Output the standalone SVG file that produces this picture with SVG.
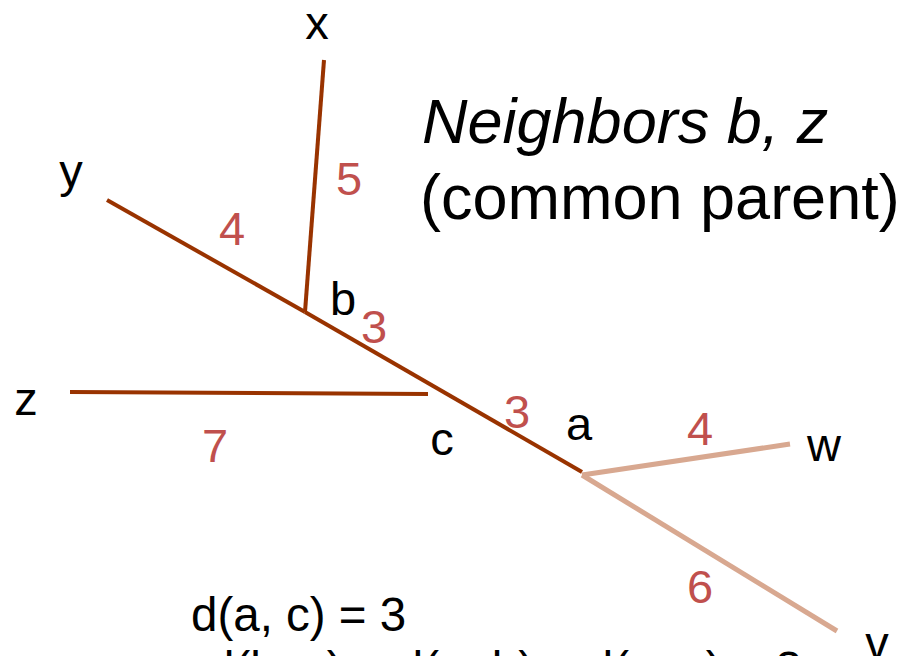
<svg xmlns="http://www.w3.org/2000/svg" width="909" height="656" viewBox="0 0 909 656">
<style>
text{font-family:"Liberation Sans",Arial,sans-serif;}
.lbl{font-size:47px;fill:#000;text-anchor:middle;}
.num{font-size:47px;fill:#C0504D;text-anchor:middle;}
.dark{stroke:#993300;stroke-width:4;stroke-linecap:butt;fill:none;}
.light{stroke:#D8A890;stroke-width:5;stroke-linecap:butt;fill:none;}
.title{font-size:63px;fill:#000;}
.eq{font-size:47.5px;fill:#000;}
</style>
<rect width="909" height="656" fill="#fff"/>
<g id="connectors">
<line class="dark" x1="324" y1="60" x2="305" y2="312"/>
<line class="dark" x1="107" y1="200" x2="305" y2="312"/>
<line class="dark" x1="305" y1="312" x2="582" y2="472"/>
<line class="dark" x1="70" y1="392" x2="428" y2="394"/>
<line class="light" x1="582" y1="475" x2="790" y2="444"/>
<line class="light" x1="582" y1="475" x2="837" y2="631"/>
</g>
<g id="node-x"><text class="lbl" x="317" y="39">x</text></g>
<g id="node-y"><text class="lbl" x="71" y="187">y</text></g>
<g id="node-z"><text class="lbl" x="26" y="415">z</text></g>
<g id="node-b"><text class="lbl" x="343" y="315">b</text></g>
<g id="node-c"><text class="lbl" x="442" y="455">c</text></g>
<g id="node-a"><text class="lbl" x="579" y="440">a</text></g>
<g id="node-w"><text class="lbl" x="824" y="461">w</text></g>
<g id="node-v"><text class="lbl" x="877" y="659">v</text></g>
<g id="edge-labels">
<text class="num" x="232" y="245">4</text>
<text class="num" x="349" y="195">5</text>
<text class="num" x="374" y="343">3</text>
<text class="num" x="517" y="428">3</text>
<text class="num" x="700" y="445">4</text>
<text class="num" x="215" y="462">7</text>
<text class="num" x="700" y="603">6</text>
</g>
<g id="title">
<text class="title" x="422" y="143" font-style="italic">Neighbors b, z</text>
<text class="title" x="420" y="219">(common parent)</text>
</g>
<g id="equations">
<text class="eq" x="191" y="631">d(a, c) = 3</text>
<text class="eq" x="208" y="685">d(b, c) = d(a, b) – d(a, c) = 3</text>
</g>
</svg>
